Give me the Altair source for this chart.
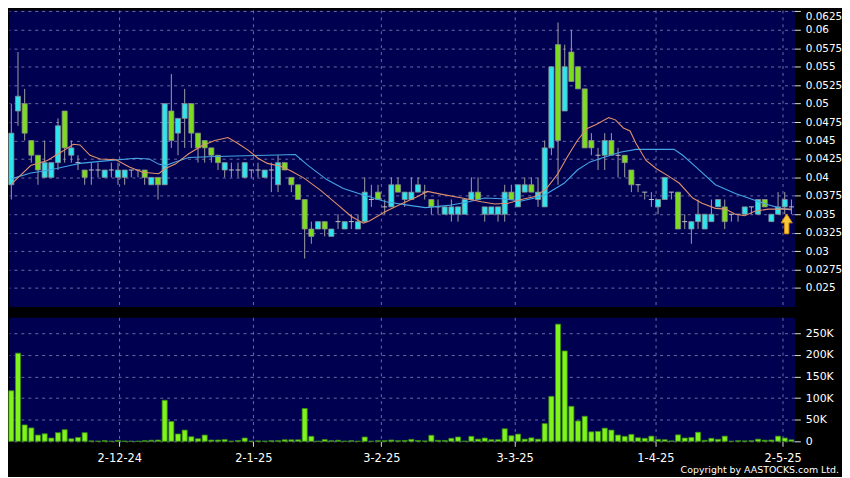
import altair as alt
import pandas as pd

# ---------------- data ----------------
opens = [0.039, 0.049, 0.050, 0.045, 0.043, 0.040, 0.040, 0.042, 0.049, 0.043,
         0.042, 0.041, 0.041, 0.041, 0.040, 0.041, 0.040, 0.040, 0.041, 0.041,
         0.041, 0.039, 0.040, 0.039, 0.049, 0.046, 0.048, 0.050, 0.046, 0.045,
         0.044, 0.043, 0.041, 0.041, 0.041, 0.040, 0.041, 0.041, 0.040, 0.041,
         0.039, 0.042, 0.040, 0.039, 0.037, 0.033, 0.033, 0.034, 0.032, 0.034,
         0.033, 0.034, 0.033, 0.034, 0.037, 0.038, 0.036, 0.036, 0.039, 0.037,
         0.037, 0.038, 0.038, 0.037, 0.036, 0.035, 0.035, 0.035, 0.035, 0.037,
         0.038, 0.035, 0.035, 0.035, 0.035, 0.038, 0.036, 0.038, 0.039, 0.037,
         0.036, 0.044, 0.058, 0.049, 0.057, 0.055, 0.052, 0.045, 0.043, 0.043,
         0.045, 0.043, 0.043, 0.041, 0.039, 0.038, 0.037, 0.036, 0.037, 0.038,
         0.038, 0.034, 0.033, 0.034, 0.033, 0.034, 0.036, 0.036, 0.035, 0.035,
         0.035, 0.036, 0.035, 0.037, 0.034, 0.035, 0.036, 0.036]
closes = [0.046, 0.051, 0.046, 0.043, 0.041, 0.042, 0.042, 0.047, 0.044, 0.044,
          0.042, 0.040, 0.041, 0.041, 0.041, 0.041, 0.041, 0.041, 0.041, 0.041,
          0.040, 0.040, 0.039, 0.050, 0.045, 0.048, 0.050, 0.046, 0.044, 0.044,
          0.043, 0.042, 0.042, 0.041, 0.041, 0.042, 0.041, 0.041, 0.041, 0.041,
          0.042, 0.041, 0.039, 0.037, 0.033, 0.032, 0.034, 0.033, 0.033, 0.034,
          0.034, 0.034, 0.034, 0.038, 0.037, 0.037, 0.036, 0.039, 0.038, 0.038,
          0.038, 0.039, 0.038, 0.036, 0.036, 0.036, 0.036, 0.036, 0.037, 0.038,
          0.037, 0.036, 0.036, 0.036, 0.038, 0.037, 0.039, 0.039, 0.038, 0.038,
          0.044, 0.055, 0.045, 0.055, 0.053, 0.052, 0.044, 0.044, 0.043, 0.045,
          0.043, 0.043, 0.042, 0.039, 0.039, 0.038, 0.037, 0.037, 0.040, 0.038,
          0.033, 0.034, 0.034, 0.035, 0.035, 0.035, 0.037, 0.034, 0.035, 0.035,
          0.036, 0.036, 0.037, 0.036, 0.035, 0.036, 0.037, 0.036]
highs = [0.050, 0.057, 0.052, 0.045, 0.043, 0.045, 0.042, 0.048, 0.049, 0.045,
         0.043, 0.041, 0.042, 0.042, 0.041, 0.042, 0.042, 0.041, 0.041, 0.041,
         0.041, 0.040, 0.040, 0.050, 0.054, 0.048, 0.052, 0.050, 0.046, 0.045,
         0.044, 0.043, 0.042, 0.042, 0.042, 0.042, 0.041, 0.042, 0.041, 0.042,
         0.043, 0.042, 0.040, 0.039, 0.037, 0.034, 0.034, 0.034, 0.033, 0.035,
         0.034, 0.035, 0.035, 0.040, 0.039, 0.039, 0.037, 0.040, 0.040, 0.038,
         0.040, 0.040, 0.039, 0.037, 0.037, 0.036, 0.037, 0.036, 0.037, 0.040,
         0.040, 0.036, 0.036, 0.036, 0.039, 0.039, 0.039, 0.040, 0.040, 0.040,
         0.045, 0.055, 0.061, 0.058, 0.060, 0.055, 0.052, 0.046, 0.044, 0.046,
         0.046, 0.044, 0.043, 0.041, 0.039, 0.038, 0.038, 0.037, 0.040, 0.038,
         0.038, 0.035, 0.034, 0.037, 0.035, 0.037, 0.037, 0.037, 0.035, 0.035,
         0.036, 0.036, 0.037, 0.037, 0.035, 0.038, 0.038, 0.037]
lows = [0.037, 0.047, 0.045, 0.042, 0.039, 0.040, 0.040, 0.041, 0.042, 0.042,
        0.041, 0.039, 0.039, 0.040, 0.040, 0.040, 0.039, 0.039, 0.040, 0.040,
        0.039, 0.039, 0.037, 0.039, 0.044, 0.043, 0.044, 0.044, 0.042, 0.042,
        0.042, 0.041, 0.040, 0.040, 0.040, 0.040, 0.040, 0.040, 0.040, 0.038,
        0.038, 0.041, 0.038, 0.037, 0.029, 0.031, 0.033, 0.032, 0.032, 0.033,
        0.033, 0.033, 0.033, 0.034, 0.036, 0.037, 0.035, 0.036, 0.038, 0.036,
        0.037, 0.038, 0.037, 0.035, 0.035, 0.035, 0.034, 0.034, 0.035, 0.037,
        0.037, 0.034, 0.035, 0.034, 0.034, 0.037, 0.036, 0.038, 0.038, 0.036,
        0.036, 0.043, 0.039, 0.049, 0.053, 0.052, 0.044, 0.043, 0.041, 0.041,
        0.043, 0.040, 0.040, 0.038, 0.038, 0.037, 0.036, 0.035, 0.037, 0.037,
        0.033, 0.033, 0.031, 0.033, 0.033, 0.034, 0.036, 0.033, 0.034, 0.034,
        0.035, 0.035, 0.035, 0.036, 0.034, 0.035, 0.035, 0.035]
volumes_k = [117, 204, 38, 31, 14.5, 17.5, 7.6, 20, 27, 6,
             9, 20, 1, 0.6, 1.6, 0.3, 2, 0.5, 0.2, 0.2,
             1.5, 2.5, 3, 95, 46, 17, 26, 10.6, 6, 14.5,
             3, 3, 4, 0.5, 2, 7.6, 0.5, 1, 0.5, 1.5,
             1.5, 3.6, 3.5, 3.5, 76, 11.5, 0.3, 4, 1.5, 2.5,
             0.3, 1.5, 0.3, 10, 0.3, 1.5, 1.5, 3, 1.5, 2,
             4.5, 2, 1, 14, 2.3, 2, 7, 10, 0.5, 11.5,
             5, 7.6, 3.8, 3.8, 29, 13, 16.7, 5, 8, 5,
             41, 104, 271, 209, 81, 47, 58, 22, 23, 30.5,
             26, 14.5, 11.5, 16, 8.3, 7, 12, 4.6, 3.8, 1,
             15, 7.6, 9, 21, 2.3, 7, 4.6, 12, 0.3, 1.5,
             1, 1.5, 5, 2.5, 3, 12, 7.6, 3.5]

# moving averages (position in trading days, value)
ma_short_pos = [0, 2.9, 5.4, 7.8, 9.3, 10.3, 11.8, 13.3, 15.7, 17.7,
                19.7, 22.1, 23.1, 24.6, 26.6, 28.6, 30.5, 32.5, 34.0, 35.5,
                37.0, 38.4, 40.4, 41.9, 43.9, 46.3, 48.8, 51.0, 52.8, 53.7,
                56.2, 58.7, 60.7, 62.4, 64.6, 67.6, 70.5, 72.5, 74.5, 76.5,
                78.5, 80.2, 81.9, 83.4, 84.9, 86.3, 87.8, 89.6, 90.6, 91.8,
                92.8, 93.7, 95.2, 96.7, 98.7, 100.2, 102.2, 103.6, 105.6, 107.1,
                108.6, 110.0, 111.5, 113.5, 117]
ma_short_val = [0.0391, 0.0416, 0.0423, 0.0436, 0.0445, 0.0444, 0.0430, 0.0425, 0.0424, 0.0414,
                0.0407, 0.0405, 0.0412, 0.0418, 0.0432, 0.0443, 0.0450, 0.0454, 0.0446, 0.0437,
                0.0426, 0.0419, 0.0415, 0.0409, 0.0399, 0.0383, 0.0364, 0.0347, 0.0338, 0.0341,
                0.0354, 0.0365, 0.0373, 0.0381, 0.0377, 0.0372, 0.0367, 0.0364, 0.0365, 0.0370,
                0.0374, 0.0384, 0.0404, 0.0428, 0.0450, 0.0466, 0.0472, 0.0481, 0.0478, 0.0467,
                0.0463, 0.0446, 0.0423, 0.0412, 0.0401, 0.0392, 0.0372, 0.0365, 0.0358, 0.0357,
                0.0350, 0.0348, 0.0354, 0.0357, 0.0357]
ma_long_pos = [0, 2.9, 4.4, 6.8, 8.8, 10.3, 13.7, 18.7, 20.7, 22.1,
               23.1, 24.6, 26.6, 29.6, 33.5, 38.4, 42.6, 44.4, 47.3, 49.8,
               52.8, 56.2, 59.7, 62.1, 65.6, 68.6, 71.0, 73.5, 76.5, 78.5,
               80.0, 82.9, 84.9, 86.8, 88.8, 91.3, 93.7, 96.2, 99.4, 100.7,
               102.7, 105.6, 108.6, 111.5, 113.5, 115.5, 117]
ma_long_val = [0.0398, 0.0406, 0.0408, 0.0412, 0.0416, 0.0419, 0.0422, 0.0426, 0.0425, 0.0418,
               0.0416, 0.0421, 0.0427, 0.0428, 0.0429, 0.0430, 0.0431, 0.0417, 0.0397, 0.0385,
               0.0376, 0.0367, 0.0362, 0.0359, 0.0362, 0.0367, 0.0372, 0.0371, 0.0368, 0.0372,
               0.0376, 0.0392, 0.0410, 0.0421, 0.0427, 0.0434, 0.0438, 0.0438, 0.0438, 0.0430,
               0.0414, 0.0390, 0.0378, 0.0369, 0.0363, 0.0358, 0.0356]

tick_pos = [16.2, 36.3, 55.5, 75.5, 96.6, 115.7]
tick_labels = ["2-12-24", "2-1-25", "3-2-25", "3-3-25", "1-4-25", "2-5-25"]
price_ticks = [0.025, 0.0275, 0.03, 0.0325, 0.035, 0.0375, 0.04, 0.0425,
               0.045, 0.0475, 0.05, 0.0525, 0.055, 0.0575, 0.06, 0.0625]
vol_ticks = [0, 50000, 100000, 150000, 200000, 250000]
copyright_text = "Copyright by AASTOCKS.com Ltd."

# ---------------- styling ----------------
UP = "#2ee4ef"
DOWN = "#7edc20"
WICK = "#a0a0a0"
BODY_STROKE = "#8c8c8c"
DOJI = "#c0c0c0"
VOL = "#80f21c"
VOL_STROKE = "#3a8c10"
MA_SHORT = "#e0906a"
MA_LONG = "#44a4e4"
GRID = "#6c6ca6"
NAVY = "#000050"
FONT = "DejaVu Sans"
W = 792

n = len(closes)
df = pd.DataFrame({
    "i": list(range(n)),
    "open": opens, "high": highs, "low": lows, "close": closes,
    "vol": [v * 1000 for v in volumes_k],
})
df["left"] = df["i"] - 0.38
df["right"] = df["i"] + 0.38
df["dir"] = ["up" if c > o else ("down" if c < o else "flat") for o, c in zip(opens, closes)]

ma_df_s = pd.DataFrame({"i": ma_short_pos, "v": ma_short_val})
ma_df_l = pd.DataFrame({"i": ma_long_pos, "v": ma_long_val})
arrow_df = pd.DataFrame({"i": [n - 1 - 0.7], "v": [closes[-1] - 0.0023]})

xscale = alt.Scale(domain=[-0.35, 117.45], nice=False, zero=False)
pscale = alt.Scale(domain=[0.0225, 0.0627], nice=False, zero=False)
vscale = alt.Scale(domain=[0, 286700], nice=False, zero=True)

x_axis_price = alt.Axis(values=tick_pos, grid=True, labels=False, ticks=False, domain=False,
                        title=None, gridColor=GRID, gridDash=[3, 4], gridWidth=1)
y_axis_price = alt.Axis(orient="right", values=price_ticks, format=".4~f", grid=True,
                        gridColor=GRID, gridDash=[3, 4], gridWidth=1, domain=False,
                        tickColor="#dddddd", tickSize=6, labelColor="#ffffff", labelFont=FONT,
                        labelFontSize=10.5, labelPadding=5, title=None, labelFlush=3)

label_expr = "''"
for p, l in reversed(list(zip(tick_pos, tick_labels))):
    label_expr = f"abs(datum.value - {p}) < 0.01 ? '{l}' : ({label_expr})"

x_axis_vol = alt.Axis(values=tick_pos, labelExpr=label_expr, grid=True, gridColor=GRID,
                      gridDash=[3, 4], gridWidth=1, domain=False, ticks=True, tickColor="#dddddd",
                      tickSize=5, labelColor="#ffffff", labelFont=FONT, labelFontSize=11.5,
                      labelPadding=6, title=None, labelFlush=False, labelOverlap=False)
y_axis_vol = alt.Axis(orient="right", values=vol_ticks,
                      labelExpr="datum.value == 0 ? '0' : (datum.value / 1000) + 'K'",
                      grid=True, gridColor=GRID, gridDash=[3, 4], gridWidth=1, domain=False,
                      tickColor="#dddddd", tickSize=6, labelColor="#ffffff", labelFont=FONT,
                      labelFontSize=11, labelPadding=5, title=None)

base = alt.Chart(df)

wick = base.mark_rule(color=WICK, strokeWidth=1).encode(
    x=alt.X("i:Q", scale=xscale, axis=x_axis_price),
    y=alt.Y("low:Q", scale=pscale, axis=y_axis_price),
    y2="high:Q",
)
body = base.transform_filter("datum.dir != 'flat'").mark_rect(
    stroke=BODY_STROKE, strokeWidth=0.8
).encode(
    x=alt.X("left:Q", scale=xscale, axis=x_axis_price),
    x2="right:Q",
    y=alt.Y("open:Q", scale=pscale, axis=y_axis_price),
    y2="close:Q",
    color=alt.Color("dir:N", scale=alt.Scale(domain=["up", "down"], range=[UP, DOWN]), legend=None),
)
doji = base.transform_filter("datum.dir == 'flat'").mark_rule(color=DOJI, strokeWidth=1).encode(
    x=alt.X("left:Q", scale=xscale, axis=x_axis_price),
    x2="right:Q",
    y=alt.Y("close:Q", scale=pscale, axis=y_axis_price),
)
ma_long = alt.Chart(ma_df_l).mark_line(color=MA_LONG, strokeWidth=1.1).encode(
    x=alt.X("i:Q", scale=xscale, axis=x_axis_price),
    y=alt.Y("v:Q", scale=pscale, axis=y_axis_price),
)
ma_short = alt.Chart(ma_df_s).mark_line(color=MA_SHORT, strokeWidth=1.1).encode(
    x=alt.X("i:Q", scale=xscale, axis=x_axis_price),
    y=alt.Y("v:Q", scale=pscale, axis=y_axis_price),
)
arrow_shape = "M0,-1L0.56,-0.1L0.22,-0.1L0.22,1L-0.22,1L-0.22,-0.1L-0.56,-0.1Z"
arrow = alt.Chart(arrow_df).mark_point(
    shape=arrow_shape, size=400, filled=True, fill="#f7c93a", stroke="#d08a10",
    strokeWidth=1, opacity=1
).encode(
    x=alt.X("i:Q", scale=xscale, axis=x_axis_price),
    y=alt.Y("v:Q", scale=pscale, axis=y_axis_price),
)

price = alt.layer(wick, body, doji, ma_long, ma_short, arrow).properties(width=W, height=299)

vbars = base.mark_rect(fill=VOL, stroke=VOL_STROKE, strokeWidth=0.8).encode(
    x=alt.X("left:Q", scale=xscale, axis=x_axis_vol),
    x2="right:Q",
    y=alt.Y("vol:Q", scale=vscale, axis=y_axis_vol),
    y2=alt.datum(0),
)
copyright = alt.Chart(pd.DataFrame({"t": [copyright_text]})).mark_text(
    align="right", baseline="alphabetic", color="#ffffff", font=FONT, fontSize=9.5
).encode(x=alt.value(837), y=alt.value(157), text="t:N")

volume = alt.layer(vbars, copyright).properties(width=W, height=125)

chart = alt.vconcat(price, volume, spacing=11).properties(
    padding=0, background="#000000"
).configure_view(fill=NAVY, strokeOpacity=0)

chart.save("out.html", embed_options={"renderer": "svg", "actions": False})
